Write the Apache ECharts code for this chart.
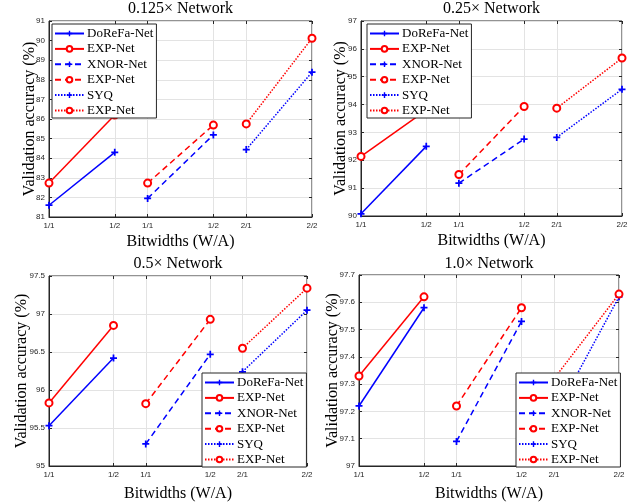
<!DOCTYPE html>
<html>
<head>
<meta charset="utf-8">
<script src="https://cdn.jsdelivr.net/npm/echarts@6/dist/echarts.min.js"></script>
<style>
  html, body { margin: 0; padding: 0; background: #fff; }
  #main { width: 632px; height: 503px; }
</style>
</head>
<body>
<div id="main"></div>
<script>
// x positions of the ticks, and what they say
var xTickPos = [0, 2, 3, 5, 6, 8]
var xTickLabels = ['1/1', '1/2', '1/1', '1/2', '2/1', '2/2']

var panelTitles = ['0.125× Network', '0.25× Network', '0.5× Network', '1.0× Network']
var yMin = [81, 90, 95, 97]
var yMax = [91, 97, 97.5, 97.7]
var yStep = [1, 1, 0.5, 0.1]

// [W1/A1, W1/A2] etc, one pair per panel
var dorefa = [[81.6, 84.3], [90.08, 92.5], [95.53, 96.42], [97.22, 97.58]]
var expSolid = [[82.73, 86.2], [92.14, 93.8], [95.83, 96.85], [97.33, 97.62]]
var xnor = [[81.95, 85.19], [91.18, 92.76], [95.29, 96.47], [97.09, 97.53]]
var expDashed = [[82.73, 85.69], [91.49, 93.93], [95.82, 96.93], [97.22, 97.58]]
var syq = [[84.44, 88.39], [92.82, 94.55], [96.24, 97.05], [97.18, 97.62]]
var expDotted = [[85.75, 90.12], [93.87, 95.67], [96.55, 97.34], [97.32, 97.63]]

var seriesDefs = [
    { name: 'DoReFa-Net', vals: dorefa, x: [0, 2], color: '#0000ff', type: 'solid', mark: 'plus' },
    { name: 'EXP-Net#1', vals: expSolid, x: [0, 2], color: '#ff0000', type: 'solid', mark: 'circle' },
    { name: 'XNOR-Net', vals: xnor, x: [3, 5], color: '#0000ff', type: [6, 4], mark: 'plus' },
    { name: 'EXP-Net#2', vals: expDashed, x: [3, 5], color: '#ff0000', type: [6, 4], mark: 'circle' },
    { name: 'SYQ', vals: syq, x: [6, 8], color: '#0000ff', type: [1.5, 1.5], mark: 'plus' },
    { name: 'EXP-Net#3', vals: expDotted, x: [6, 8], color: '#ff0000', type: [1.5, 1.5], mark: 'circle' }
]

var grids = [
    { left: 49, top: 21, width: 263, height: 196 },
    { left: 361, top: 21, width: 261, height: 195 },
    { left: 49, top: 276, width: 258, height: 195 },
    { left: 359, top: 275, width: 260, height: 196 }
]
var titleTop = [1, 1, 256, 256]
var legendPos = [[52, 24], [367, 24], [202, 373], [516, 373]]
var yNameGap = [11, 12, 19, 18]
var xNameGap = [17, 17, 20, 20]

var plusPath = 'path://M3,0H5V3H8V5H5V8H3V5H0V3H3Z'
var serif = 'Liberation Serif'
var sans = 'Liberation Sans'
var axisColor = '#262626'

var cats = []
for (let i = 0; i <= 8; i++) {
    let k = xTickPos.indexOf(i)
    cats.push(k >= 0 ? xTickLabels[k] : '')
}
function onTick(idx) {
    return xTickPos.indexOf(idx) >= 0
}

var option = {
    animation: false,
    backgroundColor: '#fff',
    title: [],
    grid: [],
    xAxis: [],
    yAxis: [],
    legend: [],
    series: []
}

for (let p = 0; p < 4; p++) {
    var g = grids[p]
    option.grid.push({
        left: g.left, top: g.top, width: g.width, height: g.height,
        show: true, borderColor: axisColor, borderWidth: 1, backgroundColor: '#fff'
    })
    option.title.push({
        text: panelTitles[p],
        left: g.left + g.width / 2,
        top: titleTop[p],
        textAlign: 'center',
        padding: 0,
        textStyle: { fontFamily: serif, fontSize: 16, fontWeight: 'normal', color: '#000' }
    })
    option.xAxis.push({
        type: 'category',
        gridIndex: p,
        data: cats,
        boundaryGap: false,
        name: 'Bitwidths (W/A)',
        nameLocation: 'middle',
        nameGap: xNameGap[p],
        nameMoveOverlap: false,
        nameTextStyle: { fontFamily: serif, fontSize: 16, color: '#000' },
        axisLine: { show: true, lineStyle: { color: axisColor, width: 1 } },
        axisTick: { show: true, inside: true, length: 3, interval: onTick, lineStyle: { color: axisColor } },
        axisLabel: { interval: onTick, margin: 5, fontFamily: sans, fontSize: 8, color: axisColor },
        splitLine: { show: true, interval: onTick, lineStyle: { color: '#e3e3e3', width: 1 } }
    })
    option.yAxis.push({
        type: 'value',
        gridIndex: p,
        min: yMin[p],
        max: yMax[p],
        interval: yStep[p],
        name: 'Validation accuracy (%)',
        nameLocation: 'middle',
        nameGap: yNameGap[p],
        nameMoveOverlap: false,
        nameTextStyle: { fontFamily: serif, fontSize: 16, color: '#000' },
        axisLine: { show: true, lineStyle: { color: axisColor, width: 1 } },
        axisTick: { show: true, inside: true, length: 3, lineStyle: { color: axisColor } },
        axisLabel: { margin: 4, fontFamily: sans, fontSize: 8, color: axisColor },
        splitLine: { show: true, lineStyle: { color: '#e3e3e3', width: 1 } }
    })
    option.legend.push({
        orient: 'vertical',
        left: legendPos[p][0],
        top: legendPos[p][1],
        data: seriesDefs.map(function (d) { return d.name }),
        formatter: function (name) { return name.split('#')[0] },
        backgroundColor: '#fff',
        borderColor: axisColor,
        borderWidth: 1,
        borderRadius: 0,
        padding: [3, 3, 1, 2],
        itemWidth: 29,
        itemHeight: 7,
        itemGap: 2.4,
        selectedMode: false,
        textStyle: { fontFamily: serif, fontSize: 13, color: '#000', lineHeight: 13, padding: [0, 0, 0, -2] },
        z: 10
    })
    seriesDefs.forEach(function (d) {
        var isPlus = d.mark === 'plus'
        option.series.push({
            type: 'line',
            name: d.name,
            xAxisIndex: p,
            yAxisIndex: p,
            data: [[d.x[0], d.vals[p][0]], [d.x[1], d.vals[p][1]]],
            symbol: isPlus ? plusPath : 'emptyCircle',
            symbolSize: 7,
            showAllSymbol: true,
            color: d.color,
            itemStyle: { color: d.color, borderWidth: isPlus ? 0 : 1.5 },
            lineStyle: { color: d.color, width: 1.5, type: d.type },
            emphasis: { disabled: true },
            z: 3
        })
    })
}

// mirrored ticks on the top and right edges, like a boxed matlab axes
for (let p = 0; p < 4; p++) {
    option.xAxis.push({
        type: 'category', gridIndex: p, position: 'top', data: cats, boundaryGap: false,
        axisLine: { show: false },
        axisTick: { show: true, inside: true, length: 3, interval: onTick, lineStyle: { color: axisColor } },
        axisLabel: { show: false },
        splitLine: { show: false }
    })
    option.yAxis.push({
        type: 'value', gridIndex: p, position: 'right',
        min: yMin[p], max: yMax[p], interval: yStep[p],
        axisLine: { show: false },
        axisTick: { show: true, inside: true, length: 3, lineStyle: { color: axisColor } },
        axisLabel: { show: false },
        splitLine: { show: false }
    })
}

var mCharts = echarts.init(document.getElementById('main'), null, { renderer: 'canvas' })
mCharts.setOption(option)
</script>
</body>
</html>
